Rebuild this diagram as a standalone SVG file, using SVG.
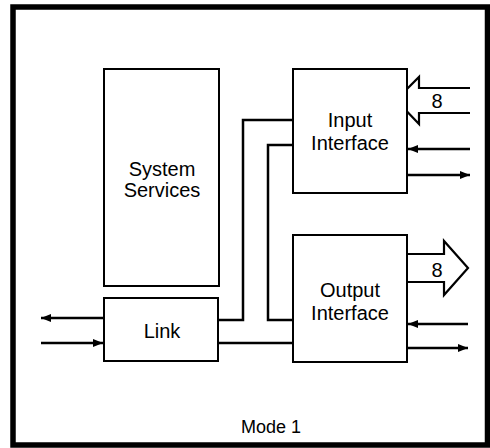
<svg xmlns="http://www.w3.org/2000/svg" width="490" height="448" viewBox="0 0 490 448">
<style>
.box{fill:#fff;stroke:#000;stroke-width:2}
.ln{fill:none;stroke:#000;stroke-width:2.5}
.bus{fill:#fff;stroke:#000;stroke-width:2.2;stroke-linejoin:miter}
.t{font-family:"Liberation Sans",Arial,Helvetica,sans-serif;font-size:20px;fill:#000;text-anchor:middle}
</style>
<defs>
<marker id="ah" viewBox="0 0 10 8" refX="10" refY="4" markerWidth="10" markerHeight="8" markerUnits="userSpaceOnUse" orient="auto">
<path d="M0,0 L10,4 L0,8 Z" fill="#000"/>
</marker>
</defs>
<rect x="13" y="7" width="474.5" height="438" fill="#fff" stroke="#000" stroke-width="5.5"/>
<g id="connectors">
<polyline class="ln" points="218,320 243,320 243,120 293,120"/>
<polyline class="ln" points="293,145 268,145 268,320 293,320"/>
<line class="ln" x1="218" y1="343" x2="293" y2="343"/>
<line class="ln" x1="104" y1="318" x2="41" y2="318" marker-end="url(#ah)"/>
<line class="ln" x1="41" y1="343" x2="103" y2="343" marker-end="url(#ah)"/>
<line class="ln" x1="470" y1="149" x2="408" y2="149" marker-end="url(#ah)"/>
<line class="ln" x1="407" y1="175" x2="470" y2="175" marker-end="url(#ah)"/>
<line class="ln" x1="468" y1="324" x2="408" y2="324" marker-end="url(#ah)"/>
<line class="ln" x1="407" y1="348" x2="468" y2="348" marker-end="url(#ah)"/>
<polyline class="bus" points="470,88 419,88 419,77 396,100 419,124 419,113 470,113"/>
<polyline class="bus" points="407,254 444,254 444,241 468,268 444,295 444,282 407,282"/>
<text class="t" x="437" y="108">8</text>
<text class="t" x="437" y="277">8</text>
</g>
<g id="system-services">
<rect class="box" x="104" y="69" width="115" height="217"/>
<text class="t" x="162" y="176">System</text>
<text class="t" x="162" y="197">Services</text>
</g>
<g id="link">
<rect class="box" x="104" y="298" width="114" height="63"/>
<text class="t" x="162" y="338">Link</text>
</g>
<g id="input-interface">
<rect class="box" x="293" y="69" width="114" height="124"/>
<text class="t" x="350" y="127">Input</text>
<text class="t" x="350" y="150">Interface</text>
</g>
<g id="output-interface">
<rect class="box" x="293" y="235" width="114" height="127"/>
<text class="t" x="350" y="297">Output</text>
<text class="t" x="350" y="320">Interface</text>
</g>
<text class="t" x="271" y="433" style="font-size:18px">Mode 1</text>
</svg>
